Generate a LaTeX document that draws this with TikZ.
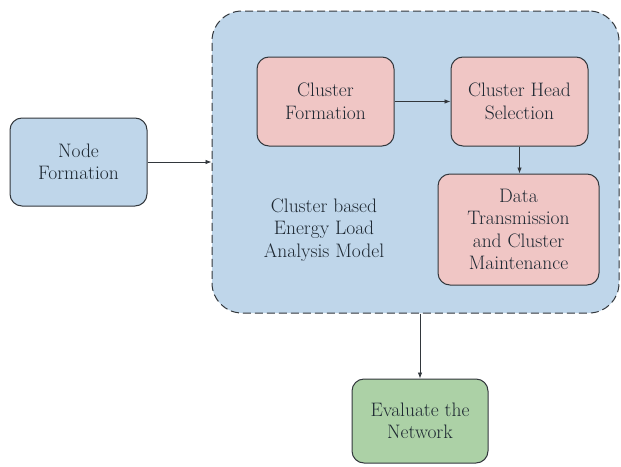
\documentclass[tikz,border=0pt]{standalone}
\usetikzlibrary{arrows.meta}
\definecolor{bluefill}{RGB}{191,214,234}
\definecolor{pinkfill}{RGB}{240,198,197}
\definecolor{greenfill}{RGB}{172,209,166}
\definecolor{linec}{RGB}{50,55,60}
\definecolor{textc}{RGB}{30,40,50}
\begin{document}
\begin{tikzpicture}[x=1pt,y=-1pt,
  box/.style={draw=linec, line width=1pt, rounded corners=12pt, align=center,
    font=\fontsize{19.5}{22.5}\selectfont, text=textc, inner sep=0pt},
  arr/.style={-{Latex[length=6pt,width=4.5pt]}, line width=0.8pt, draw=linec}]
\useasboundingbox (0,0) rectangle (621,466);
\node[draw=linec, line width=1pt, dash pattern=on 8pt off 4pt, fill=bluefill,
  rounded corners=30pt, minimum width=407pt, minimum height=302pt, inner sep=0pt]
  (cl) at (415.5,162) {};
\node[box, fill=bluefill, minimum width=137pt, minimum height=88pt] (nf) at (78.5,162) {Node\\Formation};
\node[box, fill=pinkfill, minimum width=137pt, minimum height=89pt] (cf) at (325.5,101.5) {Cluster\\Formation};
\node[box, fill=pinkfill, minimum width=137pt, minimum height=89pt] (chs) at (519.5,101.5) {Cluster Head\\Selection};
\node[box, fill=pinkfill, minimum width=161pt, minimum height=111pt] (dt) at (518.5,229.5) {Data\\Transmission\\and Cluster\\Maintenance};
\node[align=center, font=\fontsize{19.5}{22.5}\selectfont, text=textc, inner sep=0pt] (lbl) at (324,230) {Cluster based\\Energy Load\\Analysis Model};
\node[box, fill=greenfill, minimum width=136pt, minimum height=84pt] (ev) at (420,421) {Evaluate the\\Network};
\draw[arr] (nf.east) -- (nf.east -| cl.west);
\draw[arr] (cf.east) -- (chs.west);
\draw[arr] (chs.south) -- (chs.south |- dt.north);
\draw[arr] (ev.north |- cl.south) -- (ev.north);
\end{tikzpicture}
\end{document}
